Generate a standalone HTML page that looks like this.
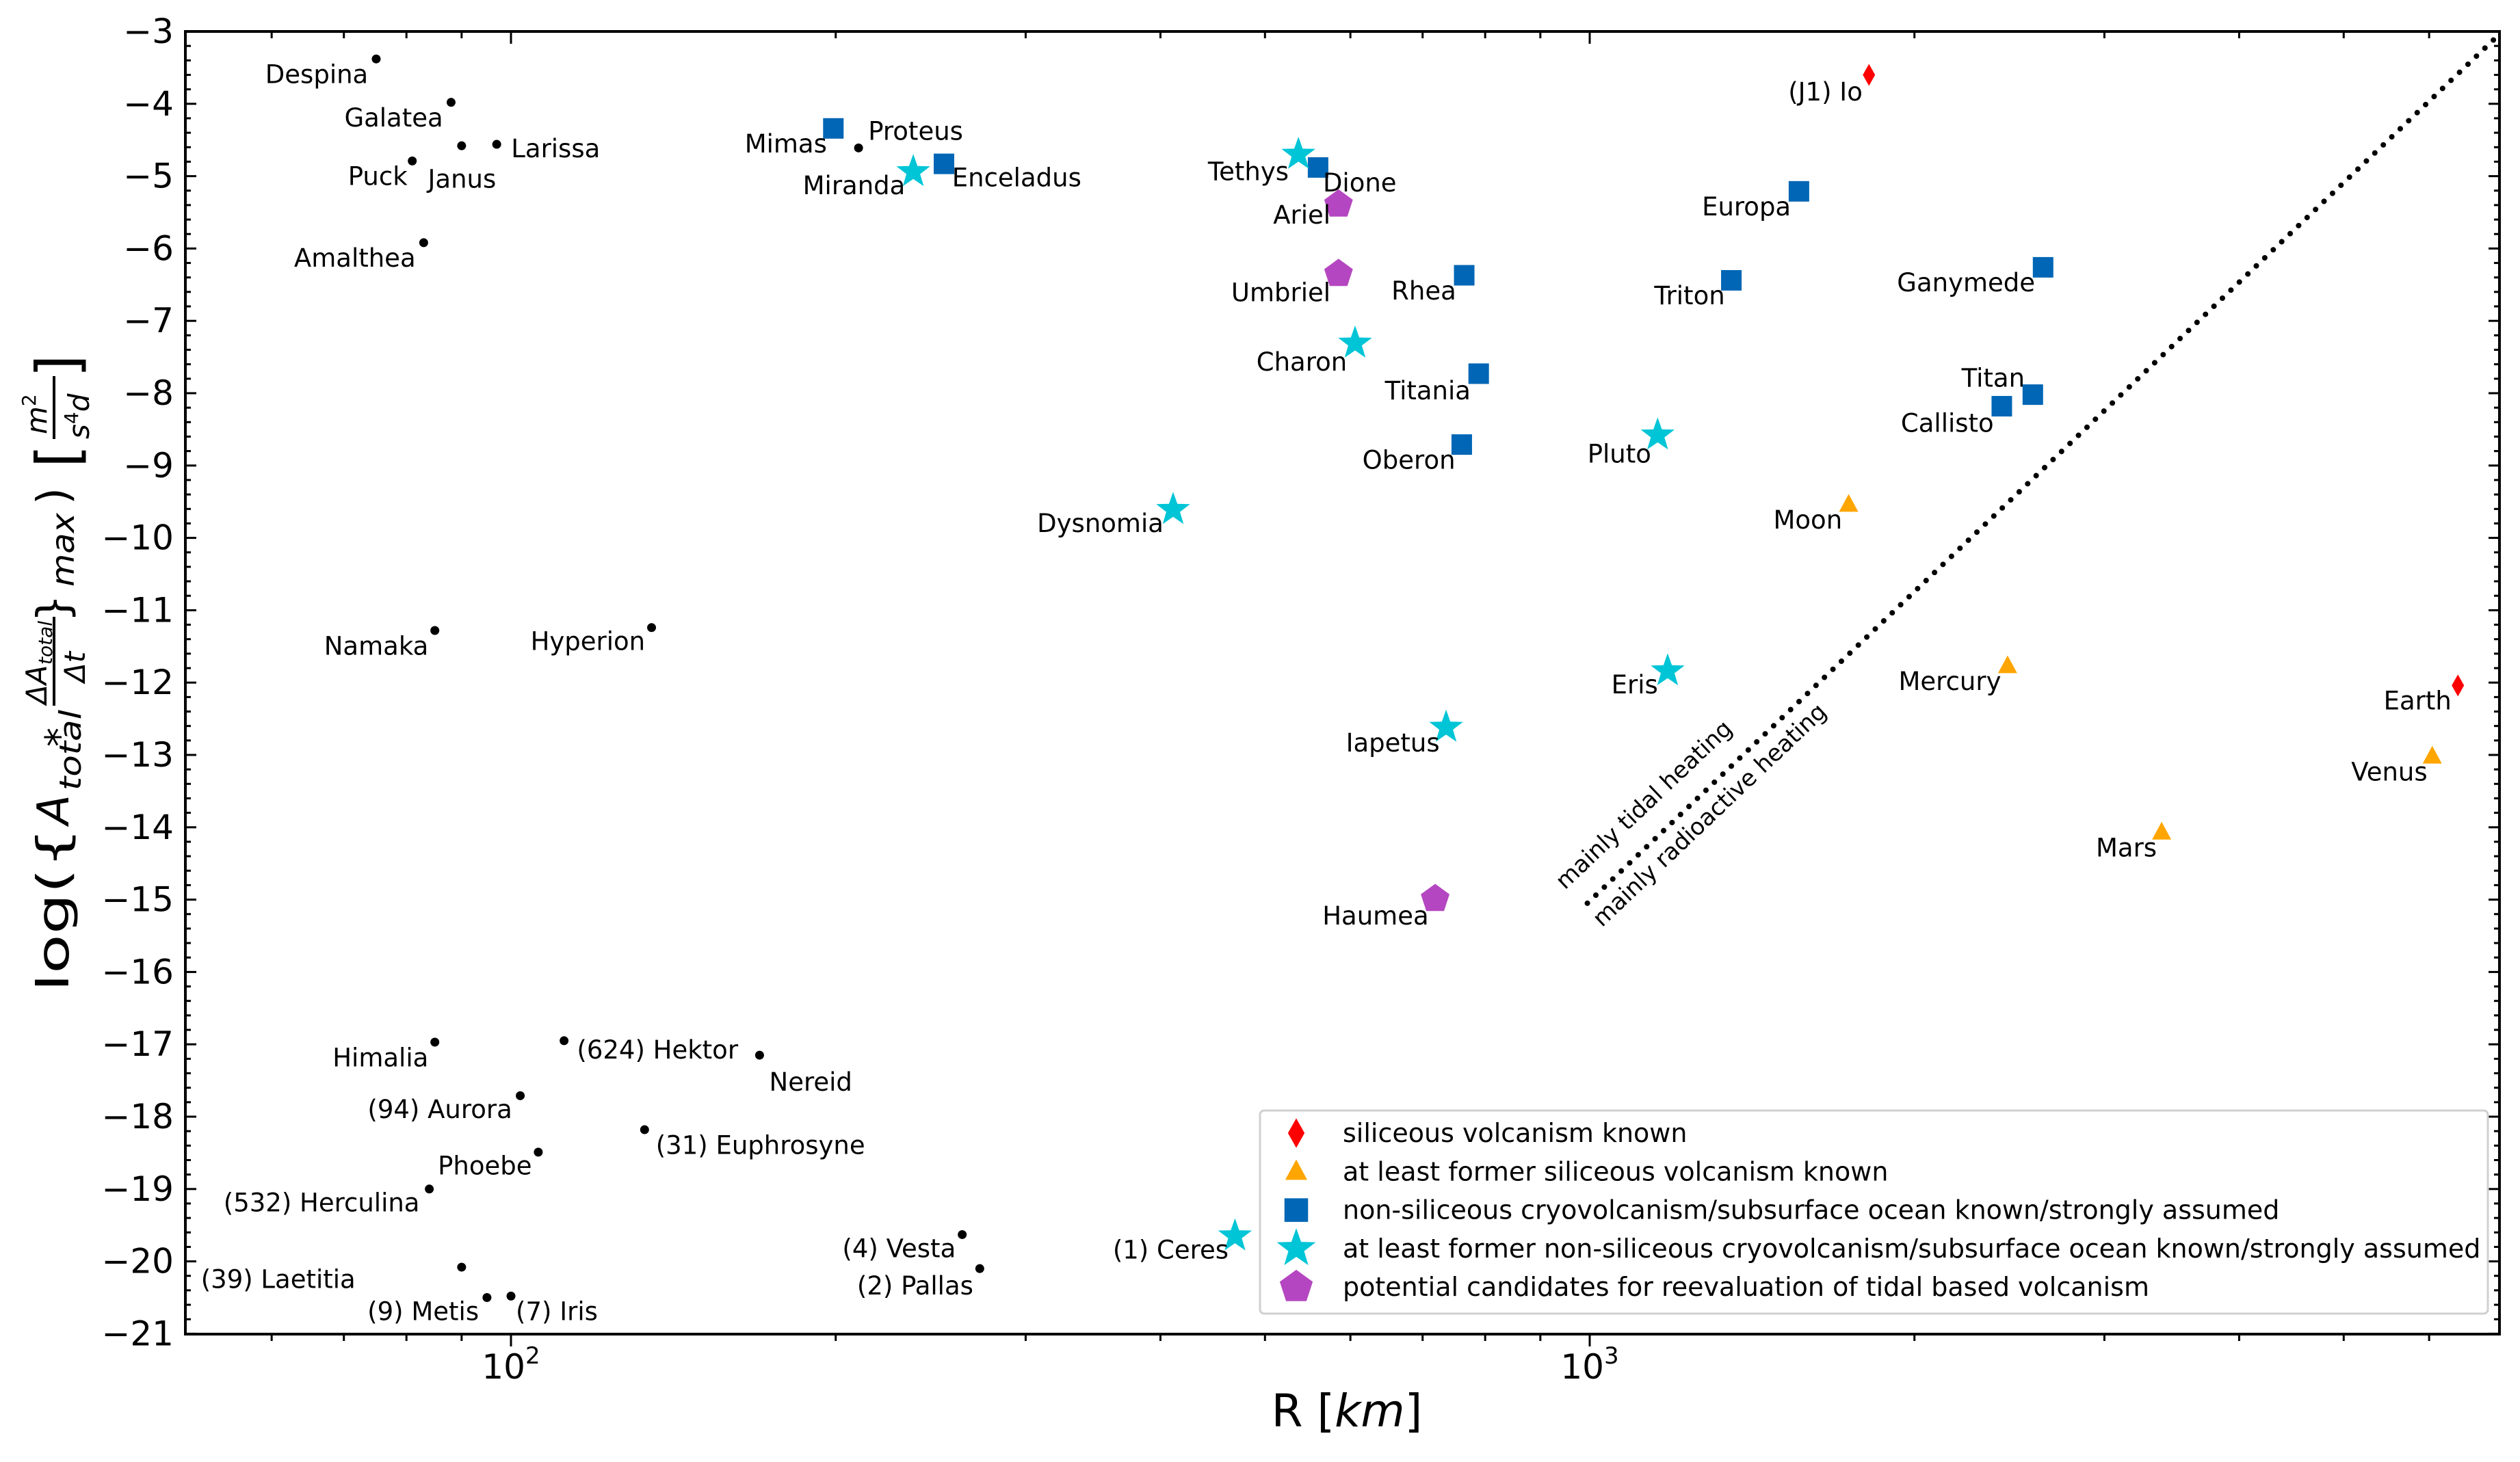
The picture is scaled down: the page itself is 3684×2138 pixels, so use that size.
<!DOCTYPE html>
<html><head><meta charset="utf-8"><style>
html,body{margin:0;padding:0;background:#fff;}
svg{display:block;font-family:"DejaVu Sans","Liberation Sans",sans-serif;}
</style></head><body>
<svg id="chart" width="3684" height="2138" viewBox="0 0 3684 2138" xmlns="http://www.w3.org/2000/svg">
<rect width="3684" height="2138" fill="#fff"/>
<g id="axes"></g>
<g id="marks"></g>
<g id="labels"></g>
<g transform="translate(100,1450) rotate(-90)" fill="#000">
  <text x="0" y="0" font-size="64" textLength="240" lengthAdjust="spacingAndGlyphs">log({</text>
  <text x="244" y="0" font-size="64" font-style="italic">A</text>
  <text x="294" y="18" font-size="44" font-style="italic" textLength="118" lengthAdjust="spacingAndGlyphs">total</text>
  <text x="358" y="6" font-size="56">*</text>
  <text x="420" y="-32" font-size="42" font-style="italic">ΔA</text>
  <text x="478" y="-24" font-size="28" font-style="italic">total</text>
  <line x1="418" y1="-21" x2="548" y2="-21" stroke="#000" stroke-width="4"/>
  <text x="452" y="24" font-size="42" font-style="italic">Δt</text>
  <text x="540" y="0" font-size="64">}</text>
  <text x="592" y="8" font-size="46" font-style="italic" textLength="108" lengthAdjust="spacingAndGlyphs">max</text>
  <text x="712" y="0" font-size="64">)</text>
  <text x="766" y="14" font-size="86">[</text>
  <text x="815" y="-32" font-size="42" font-style="italic">m<tspan font-size="28" font-style="normal" dy="-16">2</tspan></text>
  <line x1="808" y1="-21" x2="900" y2="-21" stroke="#000" stroke-width="4"/>
  <text x="808" y="30" font-size="42" font-style="italic">s<tspan font-size="28" font-style="normal" dy="-16">4</tspan><tspan dy="16">d</tspan></text>
  <text x="898" y="14" font-size="86">]</text>
</g>
<text x="1969" y="2086" font-size="66" text-anchor="middle">R [<tspan font-style="italic">km</tspan>]</text>
<g>
  <line id="divider" stroke="#000" stroke-width="8" stroke-dasharray="0.1 17" stroke-linecap="round"/>
  <text x="0" y="0" font-size="34" text-anchor="middle" transform="translate(2411,1185) rotate(-43.5)">mainly tidal heating</text>
  <text x="0" y="0" font-size="34" text-anchor="middle" transform="translate(2507,1200) rotate(-43.5)">mainly radioactive heating</text>
</g>
<g>
  <rect x="1842" y="1624" width="1795" height="297" rx="6" fill="#fff" fill-opacity="0.9" stroke="#d0d0d0" stroke-width="3"/>
  <g id="legend-entries"></g>
</g>
</svg>
<script>
// ---- data ----
const names = ["Despina","Galatea","Janus","Larissa","Puck","Amalthea","Proteus","Namaka","Hyperion","Himalia","(624) Hektor","Nereid","(94) Aurora","(31) Euphrosyne","Phoebe","(532) Herculina","(39) Laetitia","(9) Metis","(7) Iris","(4) Vesta","(2) Pallas",
"(J1) Io","Earth",
"Moon","Mercury","Mars","Venus",
"Mimas","Enceladus","Dione","Europa","Rhea","Triton","Ganymede","Titania","Titan","Callisto","Oberon",
"Miranda","Tethys","Charon","Pluto","Dysnomia","Eris","Iapetus","(1) Ceres",
"Ariel","Umbriel","Haumea"];
const radiiKm = [75,88,90,97,81,83,210,85,135,85,112,170,102,133,106,84,90,95,100,262,272,
1815,6380,
1738,2440,3390,6040,
199,252,560,1563,765,1353,2632,789,2575,2410,761,
236,537,606,1156,411,1181,736,469,
585,585,719];
const logValues = [-3.38,-3.98,-4.58,-4.56,-4.79,-5.92,-4.61,-11.28,-11.24,-16.97,-16.95,-17.15,-17.71,-18.18,-18.49,-19.0,-20.08,-20.5,-20.48,-19.63,-20.1,
-3.6,-12.04,
-9.54,-11.77,-14.07,-13.02,
-4.34,-4.83,-4.88,-5.21,-6.37,-6.44,-6.26,-7.73,-8.02,-8.18,-8.71,
-4.94,-4.70,-7.31,-8.58,-9.61,-11.84,-12.62,-19.65,
-5.39,-6.35,-14.99];
const groups = ["dot","dot","dot","dot","dot","dot","dot","dot","dot","dot","dot","dot","dot","dot","dot","dot","dot","dot","dot","dot","dot",
"sil","sil",
"former","former","former","former",
"cryo","cryo","cryo","cryo","cryo","cryo","cryo","cryo","cryo","cryo","cryo",
"fcryo","fcryo","fcryo","fcryo","fcryo","fcryo","fcryo","fcryo",
"cand","cand","cand"];
const yTicks = [-3,-4,-5,-6,-7,-8,-9,-10,-11,-12,-13,-14,-15,-16,-17,-18,-19,-20,-21];
const xTicks = [100,1000];
const xTickExp = ["2","3"];
const dividerStart = [995,-15.05];
const dividerEnd = [6970,-3.04];
const legendTexts = ["siliceous volcanism known","at least former siliceous volcanism known","non-siliceous cryovolcanism/subsurface ocean known/strongly assumed","at least former non-siliceous cryovolcanism/subsurface ocean known/strongly assumed","potential candidates for reevaluation of tidal based volcanism"];
const legendGroups = ["sil","former","cryo","fcryo","cand"];
// ---- label layout (display offsets: anchor, dx, dy) ----
const labelLayout = [["end",-5,15],["end",-5,15],["start",-21,26],["start",9,8],["end",-3,15],["end",-5,15],["start",6,-5],["end",-4,15],["end",-4,14],["end",-4,15],["start",8,11],["start",6,22],["end",-5,14],["start",7,15],["end",-4,14],["end",-6,14],["end",-66,13],["end",-5,14],["start",3,15],["end",-4,14],["end",-4,16],
["end",-4,16],["end",-4,15],
["end",-4,15],["end",-4,15],["end",-3,15],["end",-3,15],
["end",-4,15],["start",5,14],["start",3,15],["end",-5,15],["end",-5,15],["end",-4,15],["end",-5,15],["end",-5,16],["end",-5,-5],["end",-5,16],["end",-4,15],
["end",-5,14],["end",-6,16],["end",-5,17],["end",-4,17],["end",-6,14],["end",-6,14],["end",-4,15],["end",-4,14],
["end",-5,12],["end",-5,17],["end",-4,16]];

const NS="http://www.w3.org/2000/svg";
const L=271,R=3654,T=46,B=1951;
function xs(r){return 747+(Math.log10(r)-2)*1577;}
function ys(v){return T+(-3-v)*105.8;}
function mk(tag,attrs,parent){const e=document.createElementNS(NS,tag);for(const k in attrs)e.setAttribute(k,attrs[k]);parent.appendChild(e);return e;}
const colors={dot:"#000",sil:"#ff0000",former:"#ffa500",cryo:"#0066b5",fcryo:"#00c5d6",cand:"#b546c1"};
function shape(g,cx,cy,parent,scale){
  scale=scale||1;let e;
  if(g==="dot"){e=mk("circle",{cx:cx,cy:cy,r:6.5,fill:"#000"},parent);}
  else if(g==="sil"){const w=9*scale,h=16*scale;e=mk("polygon",{points:`${cx},${cy-h} ${cx+w},${cy} ${cx},${cy+h} ${cx-w},${cy}`,fill:colors.sil},parent);}
  else if(g==="former"){const s=14*scale;e=mk("polygon",{points:`${cx},${cy-s*1.1} ${cx+s},${cy+s*0.75} ${cx-s},${cy+s*0.75}`,fill:colors.former},parent);}
  else if(g==="cryo"){const s=15*scale;e=mk("rect",{x:cx-s,y:cy-s,width:2*s,height:2*s,fill:colors.cryo},parent);}
  else if(g==="fcryo"){const ro=26*scale,ri=10.5*scale;let p=[];for(let i=0;i<10;i++){const a=-Math.PI/2+i*Math.PI/5;const r=i%2?ri:ro;p.push((cx+r*Math.cos(a)).toFixed(1)+","+(cy+r*Math.sin(a)).toFixed(1));}e=mk("polygon",{points:p.join(" "),fill:colors.fcryo},parent);}
  else {const r=22*scale;let p=[];for(let i=0;i<5;i++){const a=-Math.PI/2+i*2*Math.PI/5;p.push((cx+r*Math.cos(a)).toFixed(1)+","+(cy+r*Math.sin(a)).toFixed(1));}e=mk("polygon",{points:p.join(" "),fill:colors.cand},parent);}
  return e;
}
// axes
const ax=document.getElementById("axes");
const frame=mk("rect",{x:L,y:T,width:R-L,height:B-T,fill:"none",stroke:"#000","stroke-width":4},ax);


for(let v=-3;v>=-21.001;v-=0.2){const y=ys(v);const major=Math.abs(v-Math.round(v))<0.01;const len=major?16:8;
  mk("line",{x1:L,y1:y,x2:L+len,y2:y,stroke:"#000","stroke-width":3},ax);
  mk("line",{x1:R,y1:y,x2:R-len,y2:y,stroke:"#000","stroke-width":3},ax);}
yTicks.forEach(v=>{const t=mk("text",{x:254,y:ys(v)+17,"font-size":50,"text-anchor":"end"},ax);t.textContent="\u2212"+Math.abs(v);
  
  });
[60,70,80,90,200,300,400,500,600,700,800,900,2000,3000,4000,5000,6000].forEach(r=>{const x=xs(r);
  mk("line",{x1:x,y1:B,x2:x,y2:B+10,stroke:"#000","stroke-width":3},ax);
  mk("line",{x1:x,y1:T,x2:x,y2:T+10,stroke:"#000","stroke-width":3},ax);});
xTicks.forEach((r,i)=>{const x=xs(r);
  mk("line",{x1:x,y1:B,x2:x,y2:B+18,stroke:"#000","stroke-width":3},ax);
  mk("line",{x1:x,y1:T,x2:x,y2:T+18,stroke:"#000","stroke-width":3},ax);
  const t=mk("text",{x:x,y:2016,"font-size":50,"text-anchor":"middle"},ax);
  
  
  t.innerHTML="10<tspan font-size='34' dy='-22'>"+xTickExp[i]+"</tspan>";});
// divider
const dv=document.getElementById("divider");
dv.setAttribute("x1",xs(dividerStart[0]));dv.setAttribute("y1",ys(dividerStart[1]));
dv.setAttribute("x2",xs(dividerEnd[0]));dv.setAttribute("y2",ys(dividerEnd[1]));
// marks + labels
const mg=document.getElementById("marks"),lg=document.getElementById("labels");
const S=2.35;
names.forEach((n,i)=>{const cx=xs(radiiKm[i]),cy=ys(logValues[i]);
  const m=shape(groups[i],cx,cy,mg);
  
  
  const lay=labelLayout[i];
  const t=mk("text",{x:cx+lay[1]*S,y:cy+lay[2]*S,"font-size":37,"text-anchor":lay[0]},lg);
  t.textContent=n;
  
  });
// legend
const le=document.getElementById("legend-entries");
legendTexts.forEach((txt,i)=>{const y=1657+i*56.3;
  const m=shape(legendGroups[i],1895,y,le,legendGroups[i]==="sil"?1.35:1.15);
  
  
  const t=mk("text",{x:1963,y:y+13,"font-size":38},le);t.textContent=txt;
  
  });
</script>
</body></html>
